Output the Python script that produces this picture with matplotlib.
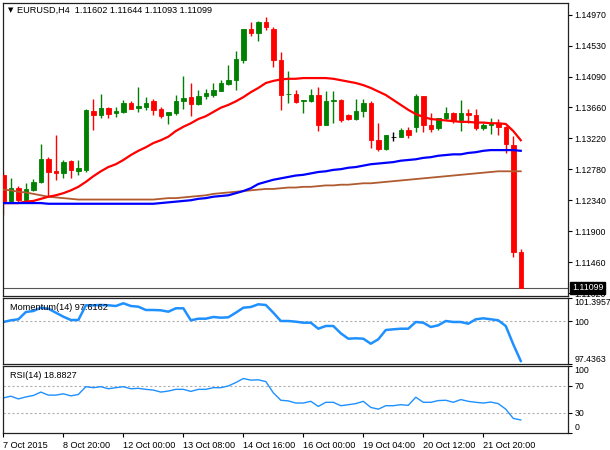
import matplotlib
matplotlib.use('Agg')
import matplotlib.pyplot as plt
import matplotlib.transforms as mtransforms
import numpy as np

plt.rcParams['font.family'] = ['Liberation Sans', 'DejaVu Sans']

# EURUSD H4 candles
opens = [1.1270, 1.1233, 1.1251, 1.1235, 1.1249, 1.1260, 1.1292, 1.1276, 1.1273, 1.1289,
         1.1276, 1.1277, 1.1361, 1.1355, 1.1364, 1.1357, 1.1359, 1.1371, 1.1364, 1.1366,
         1.1374, 1.1363, 1.1355, 1.1358, 1.1374, 1.1380, 1.1370, 1.1381, 1.1383, 1.1389,
         1.1399, 1.1404, 1.1433, 1.1477, 1.1471, 1.1487, 1.1477, 1.1433, 1.1384, 1.1385,
         1.1375, 1.1374, 1.1383, 1.1340, 1.1374, 1.1376, 1.1354, 1.1349, 1.1360, 1.1372,
         1.1320, 1.1306, 1.1324, 1.1324, 1.1334, 1.1338, 1.1381, 1.1340, 1.1336, 1.1351,
         1.1358, 1.1347, 1.1357, 1.1355, 1.1337, 1.1340, 1.1344, 1.1338, 1.1312, 1.11602]
highs = [1.1274, 1.1265, 1.1254, 1.1258, 1.1264, 1.1314, 1.1295, 1.1326, 1.1291, 1.1291,
         1.1291, 1.1363, 1.1377, 1.1385, 1.1366, 1.1366, 1.1376, 1.1374, 1.1395, 1.1380,
         1.1378, 1.1366, 1.1359, 1.1383, 1.1410, 1.1400, 1.1390, 1.1392, 1.1400, 1.1404,
         1.1425, 1.1446, 1.1477, 1.1487, 1.1488, 1.1493, 1.1480, 1.1444, 1.1417, 1.1390,
         1.1376, 1.1392, 1.1395, 1.1388, 1.1389, 1.1377, 1.1356, 1.1377, 1.1378, 1.1374,
         1.1343, 1.1326, 1.1330, 1.1337, 1.1338, 1.1385, 1.1382, 1.1357, 1.1351, 1.1366,
         1.1359, 1.1376, 1.1363, 1.1363, 1.1344, 1.1350, 1.1349, 1.1339, 1.1325, 1.11644]
lows = [1.1213, 1.1231, 1.1231, 1.1231, 1.1247, 1.1259, 1.1238, 1.1262, 1.1266, 1.1265,
        1.1270, 1.1274, 1.1333, 1.1350, 1.1350, 1.1352, 1.1357, 1.1363, 1.1359, 1.1362,
        1.1355, 1.1350, 1.1342, 1.1355, 1.1363, 1.1353, 1.1369, 1.1378, 1.1380, 1.1388,
        1.1397, 1.1390, 1.1429, 1.1466, 1.1460, 1.1475, 1.1423, 1.1362, 1.1371, 1.1371,
        1.1357, 1.1373, 1.1332, 1.1340, 1.1343, 1.1345, 1.1348, 1.1348, 1.1352, 1.1308,
        1.1304, 1.1305, 1.1318, 1.1323, 1.1322, 1.1331, 1.1331, 1.1331, 1.1334, 1.1347,
        1.1344, 1.1332, 1.1343, 1.1334, 1.1334, 1.1328, 1.1326, 1.1301, 1.1154, 1.11093]
closes = [1.1233, 1.1251, 1.1234, 1.1250, 1.1260, 1.1292, 1.1274, 1.1273, 1.1288, 1.1277,
          1.1279, 1.1362, 1.1355, 1.1364, 1.1356, 1.1361, 1.1371, 1.1363, 1.1367, 1.1371,
          1.1362, 1.1353, 1.1359, 1.1374, 1.1379, 1.1370, 1.1381, 1.1386, 1.1390, 1.1400,
          1.1404, 1.1434, 1.1477, 1.1471, 1.1487, 1.1479, 1.1433, 1.1383, 1.1385, 1.1373,
          1.1376, 1.1383, 1.1340, 1.1375, 1.1376, 1.1347, 1.1349, 1.1361, 1.1371, 1.1319,
          1.1306, 1.1326, 1.1324, 1.1334, 1.1326, 1.1381, 1.1340, 1.1335, 1.1350, 1.1357,
          1.1347, 1.1357, 1.1354, 1.1336, 1.1340, 1.1344, 1.1338, 1.1314, 1.11602, 1.11099]

# moving averages
ma_red = [1.1230, 1.1230, 1.1230, 1.1232, 1.1233, 1.1236, 1.1239, 1.1241, 1.1244, 1.1248,
          1.1253, 1.1260, 1.1268, 1.1275, 1.1281, 1.1285, 1.1291, 1.1298, 1.1304, 1.1309,
          1.1315, 1.1319, 1.1324, 1.1332, 1.1338, 1.1343, 1.1349, 1.1353, 1.1359, 1.1365,
          1.1369, 1.1374, 1.1380, 1.1387, 1.1393, 1.1400, 1.1403, 1.1405, 1.1406, 1.1406,
          1.1407, 1.1407, 1.1407, 1.1407, 1.1406, 1.1404, 1.1402, 1.1400, 1.1397, 1.1393,
          1.1388, 1.1383, 1.1376, 1.1369, 1.1362, 1.1356, 1.1352, 1.1349, 1.1348, 1.1347,
          1.1346, 1.1345, 1.1345, 1.1344, 1.1344, 1.1343, 1.1343, 1.1342, 1.1332, 1.1319]
ma_blue = [1.1230, 1.1230, 1.1230, 1.1230, 1.1230, 1.1230, 1.1229, 1.1229, 1.1229, 1.1229,
           1.1229, 1.1229, 1.1229, 1.1229, 1.1229, 1.1229, 1.1229, 1.1229, 1.1229, 1.1229,
           1.1229, 1.1230, 1.1231, 1.1232, 1.1233, 1.1234, 1.1236, 1.1237, 1.1239, 1.1240,
           1.1241, 1.1244, 1.1247, 1.1251, 1.1257, 1.1260, 1.1263, 1.1265, 1.1267, 1.1269,
           1.1270, 1.1272, 1.1274, 1.1275, 1.1277, 1.1278, 1.1280, 1.1281, 1.1283, 1.1285,
           1.1286, 1.1287, 1.1288, 1.1290, 1.1291, 1.1292, 1.1294, 1.1295, 1.1297, 1.1298,
           1.1299, 1.1299, 1.1301, 1.1302, 1.1304, 1.1305, 1.1305, 1.1305, 1.1305, 1.1304]
ma_brown = [1.1249, 1.1248, 1.1246, 1.1245, 1.1243, 1.1241, 1.1239, 1.1238, 1.1237, 1.1236,
            1.1235, 1.1235, 1.1235, 1.1235, 1.1235, 1.1235, 1.1235, 1.1235, 1.1235, 1.1235,
            1.1235, 1.1236, 1.1237, 1.1237, 1.1238, 1.1239, 1.1240, 1.1241, 1.1243, 1.1244,
            1.1245, 1.1246, 1.1247, 1.1248, 1.1249, 1.1250, 1.1250, 1.1251, 1.1252, 1.1252,
            1.1253, 1.1253, 1.1254, 1.1255, 1.1255, 1.1256, 1.1256, 1.1257, 1.1258, 1.1258,
            1.1259, 1.1260, 1.1261, 1.1262, 1.1263, 1.1264, 1.1265, 1.1266, 1.1267, 1.1268,
            1.1269, 1.1270, 1.1271, 1.1272, 1.1273, 1.1274, 1.1275, 1.1275, 1.1275, 1.1275]

momentum = [99.956, 100.058, 100.118, 100.556, 100.616, 100.814, 100.754, 100.514, 100.274, 100.076,
            100.076, 100.958, 100.958, 100.976, 100.958, 100.916, 101.078, 100.916, 100.874, 100.676,
            100.676, 100.658, 100.574, 100.778, 100.778, 100.058, 100.154, 100.154, 100.256, 100.214,
            100.238, 100.514, 100.814, 100.856, 101.018, 100.976, 100.514, 100.016, 100.016, 99.974,
            99.914, 99.914, 99.554, 99.716, 99.716, 99.278, 98.954, 98.978, 98.954, 98.654,
            98.918, 99.476, 99.518, 99.554, 99.554, 99.956, 99.914, 99.656, 99.758, 100.016,
            99.956, 99.956, 99.854, 100.118, 100.178, 100.118, 100.058, 99.716, 98.618, 97.6162]
rsi = [52.0, 54.6, 50.5, 53.5, 55.7, 60.8, 56.2, 56.2, 58.2, 55.1,
       57.2, 68.9, 67.4, 68.9, 65.8, 67.4, 68.9, 65.8, 66.4, 64.9,
       63.8, 60.8, 62.3, 64.9, 64.9, 61.8, 64.9, 64.9, 67.4, 67.4,
       70.0, 75.1, 81.2, 78.8, 79.2, 76.6, 59.7, 48.5, 47.5, 44.3,
       44.3, 46.9, 39.2, 45.4, 45.4, 40.3, 41.8, 43.4, 46.9, 37.7,
       35.1, 40.3, 40.3, 41.8, 40.8, 53.1, 45.4, 45.4, 48.0, 48.5,
       45.4, 49.5, 46.9, 45.4, 44.3, 45.8, 43.4, 35.1, 21.2, 18.8827]

time_labels = ['7 Oct 2015', '8 Oct 20:00', '12 Oct 00:00', '13 Oct 08:00', '14 Oct 16:00',
               '16 Oct 00:00', '19 Oct 04:00', '20 Oct 12:00', '21 Oct 20:00']
label_bars = [0, 8, 16, 24, 32, 40, 48, 56, 64]
price_ticks = [1.14970, 1.14530, 1.14090, 1.13660, 1.13220, 1.12780, 1.12340, 1.11900, 1.11460, 1.11020]
mom_max, mom_min = 101.3957, 97.4363

x = np.arange(len(opens))
o = np.array(opens)
c = np.array(closes)
colors = np.where(c > o, '#008000', np.where(c < o, '#ff0000', 'black'))

W, H = 610, 450
fig = plt.figure(figsize=(6.1, 4.5), dpi=100)
fig.patch.set_facecolor('white')


def px_axes(left, top, right, bottom):
    return fig.add_axes([left / W, 1 - bottom / H, (right - left) / W, (bottom - top) / H])


ax = px_axes(3, 3, 568, 296)
ax_m = px_axes(3, 298, 568, 364)
ax_r = px_axes(3, 366, 568, 432.5)

for a in (ax, ax_m, ax_r):
    a.set_xlim(-0.05, 75.3)
    a.yaxis.tick_right()
    a.tick_params(axis='y', direction='out', length=3, width=0.8, pad=1.5, labelsize=6.3, colors='black')
    for s in a.spines.values():
        s.set_color('#222222')
        s.set_linewidth(0.9)
    a.set_facecolor('white')

# candles
ax.vlines(x, lows, highs, colors=colors, linewidth=1, zorder=2)
ax.bar(x, c - o, bottom=o, width=0.6, color=colors, edgecolor=colors, linewidth=0.6, zorder=3)
ax.plot(x, ma_brown, color='#b05a30', linewidth=1.3, zorder=4)
ax.plot(x, ma_red, color='#ff0000', linewidth=1.6, zorder=5)
ax.plot(x, ma_blue, color='#0000ff', linewidth=1.6, zorder=6)
ax.axhline(closes[-1], color='#555555', linewidth=0.8, zorder=1)

ax.set_ylim(1.10984, 1.15133)
ax.set_yticks(price_ticks)
ax.set_yticklabels([f'{t:.5f}' for t in price_ticks])
ax.set_xticks([])

trans = mtransforms.blended_transform_factory(ax.transAxes, ax.transData)
ax.text(1.007, closes[-1], f'{closes[-1]:.5f}', transform=trans, ha='left', va='center',
        fontsize=6.3, color='white', zorder=10, clip_on=False,
        bbox=dict(facecolor='black', edgecolor='black', pad=1.3))
ax.text(0.008, 0.975, '\u25bc', transform=ax.transAxes, fontsize=5, va='center', ha='left',
        family='DejaVu Sans')
ax.text(0.024, 0.975, 'EURUSD,H4  %.5f %.5f %.5f %.5f' % (opens[-1], highs[-1], lows[-1], closes[-1]),
        transform=ax.transAxes, fontsize=6.6, va='center', ha='left')

# momentum
ax_m.plot(x, momentum, color='#1e90ff', linewidth=1.8)
ax_m.axhline(100, color='#b0b0b0', linewidth=0.8, linestyle=(0, (2, 2)), zorder=0)
ax_m.set_ylim(mom_min, mom_max)
ax_m.set_yticks([mom_min, 100, mom_max])
ax_m.set_yticklabels([f'{mom_min:.4f}', '100', f'{mom_max:.4f}'])
ml = ax_m.get_yticklabels()
ml[0].set_va('bottom')
ml[2].set_va('top')
ax_m.set_xticks([])
ax_m.text(0.012, 0.85, 'Momentum(14) %.4f' % momentum[-1], transform=ax_m.transAxes,
          fontsize=6.6, va='center', ha='left')

# RSI
ax_r.plot(x, rsi, color='#1e90ff', linewidth=1.0)
for lvl in (70, 30):
    ax_r.axhline(lvl, color='#b0b0b0', linewidth=0.8, linestyle=(0, (2, 2)), zorder=0)
ax_r.set_ylim(0, 100)
ax_r.set_yticks([0, 30, 70, 100])
ax_r.set_yticklabels(['0', '30', '70', '100'])
rl = ax_r.get_yticklabels()
rl[0].set_va('bottom')
rl[3].set_va('top')
ax_r.text(0.012, 0.85, 'RSI(14) %.4f' % rsi[-1], transform=ax_r.transAxes,
          fontsize=6.6, va='center', ha='left')

ax_r.set_xticks(label_bars)
ax_r.set_xticklabels(time_labels, ha='left')
ax_r.tick_params(axis='x', direction='out', length=3, width=0.8, pad=3, labelsize=6.6)

fig.savefig('out.png', dpi=100, facecolor='white')
